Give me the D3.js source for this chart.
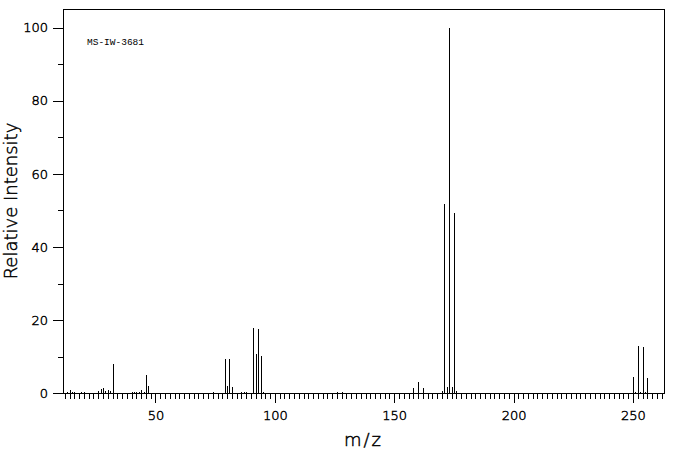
<!DOCTYPE html>
<html>
<head>
<meta charset="utf-8">
<script src="https://cdn.jsdelivr.net/npm/d3@7"></script>
<style>
  html, body { margin: 0; padding: 0; background: #fff; }
  svg { display: block; }
</style>
</head>
<body>
<svg id="chart" width="676" height="455"></svg>
<script>
// m/z values of each peak
const masses = [13, 14, 15, 16, 19, 20, 26, 27, 28, 29, 30, 31, 32,
  40, 41, 42, 43, 44, 45, 46, 47,
  74, 79, 80, 81, 82, 86, 87, 88, 91, 92, 93, 94, 95,
  126, 128,
  158, 160, 162, 170, 171, 172, 173, 174, 175, 176,
  250, 251, 252, 253, 254, 255, 256];
// relative intensities of each peak
const intensities = [0.4, 0.9, 0.4, 0.4, 0.4, 0.4, 0.6, 1.2, 1.4, 0.6, 1.0, 0.5, 8.1,
  0.4, 0.4, 0.4, 0.4, 1.0, 0.4, 5.0, 2.0,
  0.4, 9.4, 2.0, 9.4, 1.7, 0.4, 0.4, 0.4, 17.8, 10.7, 17.6, 10.2, 0.4,
  0.3, 0.3,
  1.4, 3.1, 1.4, 0.6, 51.7, 1.7, 100, 1.7, 49.3, 0.6,
  4.4, 0.3, 12.9, 0.3, 12.6, 0.3, 4.1];
const xMajorTicks = [50, 100, 150, 200, 250];
const xMinorTicks = d3.range(12, 263, 2);
const yMajorTicks = [0, 20, 40, 60, 80, 100];
const yMinorTicks = [10, 30, 50, 70, 90];
const xTitle = "m/z";
const yTitle = "Relative Intensity";
const spectrumId = "MS-IW-3681";

const svg = d3.select("#chart");
const pL = 63, pR = 664, pT = 9.3, pB = 393.3;
const labelFont = "'DejaVu Sans', sans-serif";

const x = d3.scaleLinear().domain([11.26, 263.0]).range([pL, pR]);
const y = d3.scaleLinear().domain([0, 105]).range([pB, pT]);

// bars
svg.append("g")
  .selectAll("line")
  .data(masses.map((m, i) => ({ m, v: intensities[i] })))
  .join("line")
  .attr("x1", d => Math.round(x(d.m)) + 0.5)
  .attr("x2", d => Math.round(x(d.m)) + 0.5)
  .attr("y1", y(0))
  .attr("y2", d => y(d.v))
  .attr("stroke", "#000")
  .attr("stroke-width", 1)
  .attr("shape-rendering", "crispEdges");

// axes
const xMinor = svg.append("g").attr("transform", `translate(0,${pB})`)
  .call(d3.axisBottom(x).tickValues(xMinorTicks).tickSize(6).tickFormat(""));
const xMajor = svg.append("g").attr("transform", `translate(0,${pB})`)
  .call(d3.axisBottom(x).tickValues(xMajorTicks).tickSize(10).tickPadding(7).tickFormat(d3.format("d")));
const yMinor = svg.append("g").attr("transform", `translate(${pL},0)`)
  .call(d3.axisLeft(y).tickValues(yMinorTicks).tickSize(5).tickFormat(""));
const yMajor = svg.append("g").attr("transform", `translate(${pL},0)`)
  .call(d3.axisLeft(y).tickValues(yMajorTicks).tickSize(10).tickPadding(5).tickFormat(d3.format("d")));

function thinText(sel, size) {
  sel.style("font-family", labelFont)
    .style("font-weight", 200)
    .style("font-size", size + "px")
    .style("fill", "#000")
    .style("stroke", "#000")
    .style("stroke-width", "0.45px");
}

[xMinor, xMajor, yMinor, yMajor].forEach(g => {
  g.select(".domain").remove();
  g.selectAll(".tick line").attr("stroke", "#000").attr("shape-rendering", "crispEdges");
  thinText(g.selectAll("text"), 13);
});

// frame
svg.append("rect")
  .attr("x", pL).attr("y", pT)
  .attr("width", pR - pL).attr("height", pB - pT)
  .attr("fill", "none").attr("stroke", "#000").attr("stroke-width", 1)
  .attr("shape-rendering", "crispEdges");

// titles
svg.append("text")
  .attr("x", (pL + pR) / 2)
  .attr("y", 446)
  .attr("text-anchor", "middle")
  .call(thinText, 18)
  .style("letter-spacing", "2px")
  .text(xTitle);

svg.append("text")
  .attr("transform", `translate(16.5,201) rotate(-90)`)
  .attr("text-anchor", "middle")
  .call(thinText, 18)
  .text(yTitle);

svg.append("text")
  .attr("x", 87)
  .attr("y", 44.5)
  .style("font-family", "'Liberation Mono', monospace")
  .style("font-size", "9.5px")
  .style("fill", "#000")
  .text(spectrumId);
</script>
</body>
</html>
